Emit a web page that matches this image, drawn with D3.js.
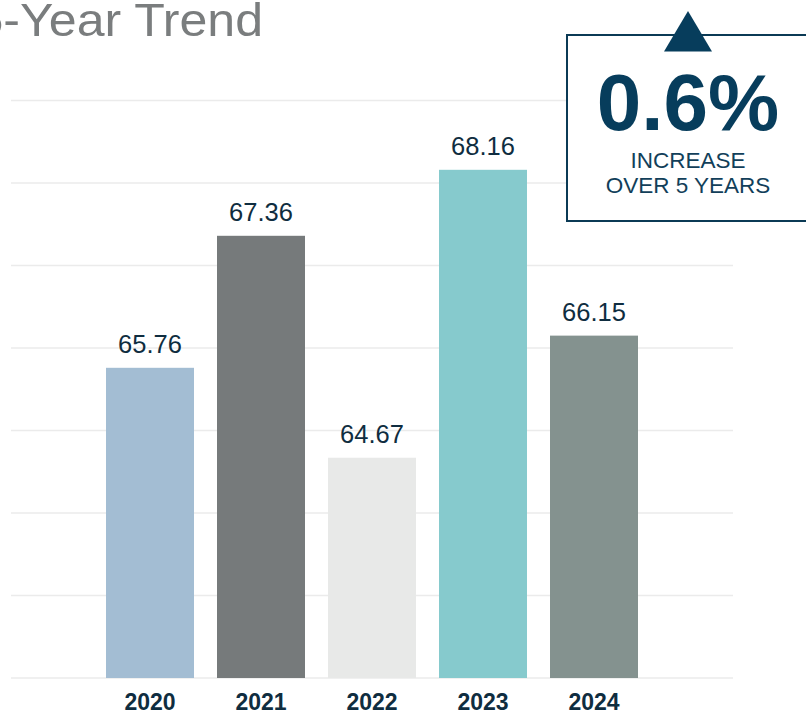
<!DOCTYPE html>
<html>
<head>
<meta charset="utf-8">
<script src="https://cdn.jsdelivr.net/npm/d3@7"></script>
<style>
  html, body { margin: 0; padding: 0; background: #ffffff; }
  svg { display: block; font-family: "Liberation Sans", Arial, sans-serif; }
</style>
</head>
<body>
<svg id="chart" width="806" height="714"></svg>
<script>
const years = ["2020", "2021", "2022", "2023", "2024"];
const values = [65.76, 67.36, 64.67, 68.16, 66.15];
const barColors = ["#a3bdd3", "#767a7b", "#e8e9e8", "#86cacd", "#84928f"];
const gridTicks = [62, 63, 64, 65, 66, 67, 68, 69];
const titleText = "5-Year Trend";
const calloutValue = "0.6%";
const calloutLines = ["INCREASE", "OVER 5 YEARS"];

const svg = d3.select("#chart");

const x = d3.scaleBand()
  .domain(years)
  .range([94.5, 649.5])
  .paddingInner(23 / 111)
  .paddingOuter(23 / 222);

const y = d3.scaleLinear()
  .domain([62, 69])
  .range([678, 100.5]);

// gridlines
svg.append("g")
  .selectAll("line")
  .data(gridTicks)
  .join("line")
  .attr("x1", 11)
  .attr("x2", 733)
  .attr("y1", d => y(d))
  .attr("y2", d => y(d))
  .attr("stroke", "#ebebeb")
  .attr("stroke-width", 1.6);

// bars
svg.append("g")
  .selectAll("rect")
  .data(values)
  .join("rect")
  .attr("x", (d, i) => x(years[i]))
  .attr("width", x.bandwidth())
  .attr("y", d => y(d))
  .attr("height", d => y(62) - y(d))
  .attr("fill", (d, i) => barColors[i]);

// value labels
svg.append("g")
  .selectAll("text")
  .data(values)
  .join("text")
  .attr("x", (d, i) => x(years[i]) + x.bandwidth() / 2)
  .attr("y", d => y(d) - 15)
  .attr("text-anchor", "middle")
  .attr("font-size", 25.5)
  .attr("fill", "#0f2d40")
  .text(d => d.toFixed(2));

// year labels
svg.append("g")
  .selectAll("text")
  .data(years)
  .join("text")
  .attr("x", d => x(d) + x.bandwidth() / 2)
  .attr("y", 710)
  .attr("text-anchor", "middle")
  .attr("font-size", 23)
  .attr("font-weight", "bold")
  .attr("fill", "#0f2d40")
  .text(d => d);

// title (cut off at left, as in the reference)
svg.append("text")
  .attr("transform", "scale(1.065,1)")
  .attr("x", -23)
  .attr("y", 36)
  .attr("font-size", 47)
  .attr("fill", "#7a7d7e")
  .text(titleText);

// callout box
svg.append("rect")
  .attr("x", 567)
  .attr("y", 35)
  .attr("width", 250)
  .attr("height", 186)
  .attr("fill", "#ffffff")
  .attr("stroke", "#0b3a55")
  .attr("stroke-width", 2);

const cx = 688;
svg.append("path")
  .attr("d", `M${cx},11 L${cx + 24},51.5 L${cx - 24},51.5 Z`)
  .attr("fill", "#073d5c");

svg.append("text")
  .attr("x", cx)
  .attr("y", 130)
  .attr("text-anchor", "middle")
  .attr("font-size", 80)
  .attr("font-weight", "bold")
  .attr("fill", "#073d5c")
  .text(calloutValue);

svg.append("g")
  .selectAll("text")
  .data(calloutLines)
  .join("text")
  .attr("x", cx)
  .attr("y", (d, i) => 168 + i * 25)
  .attr("text-anchor", "middle")
  .attr("font-size", 22.5)
  .attr("fill", "#123f5a")
  .text(d => d);
</script>
</body>
</html>
